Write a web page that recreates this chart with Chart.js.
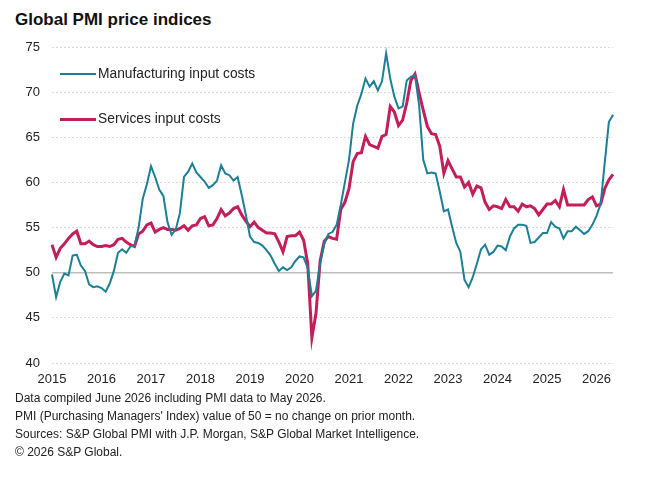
<!DOCTYPE html>
<html>
<head>
<meta charset="utf-8">
<script src="https://cdn.jsdelivr.net/npm/chart.js@4"></script>
<style>
    body { margin: 0; background: #fff; font-family: "Liberation Sans", Arial, sans-serif; }
    .wrap { position: relative; width: 646px; height: 478px; overflow: hidden; }
    .title { position: absolute; left: 15px; top: 10px; font-size: 17px; font-weight: bold; color: #111; }
    .chart-box { position: absolute; left: 0; top: 0; width: 646px; height: 390px; }
    .legend-item { position: absolute; left: 60px; font-size: 13.8px; color: #222; white-space: nowrap; }
    .legend-item .swatch { display: inline-block; width: 36px; vertical-align: middle; margin-right: 2px; }
    .notes { position: absolute; left: 15px; top: 389px; font-size: 12px; line-height: 18px; color: #222; }
</style>
</head>
<body>
<div class="wrap">
    <div class="title">Global PMI price indices</div>
    <div class="chart-box"><canvas id="pmiChart" width="646" height="390"></canvas></div>
    <div class="legend-item" style="top: 66px;"><span class="swatch" style="border-top: 2px solid #1b7f95;"></span>Manufacturing input costs</div>
    <div class="legend-item" style="top: 111px;"><span class="swatch" style="border-top: 3px solid #c41e5a;"></span>Services input costs</div>
    <div class="notes">
        Data compiled June 2026 including PMI data to May 2026.<br>
        PMI (Purchasing Managers' Index) value of 50 = no change on prior month.<br>
        Sources: S&amp;P Global PMI with J.P. Morgan, S&amp;P Global Market Intelligence.<br>
        &copy; 2026 S&amp;P Global.
    </div>
</div>
<script>
// Monthly values, Jan 2015 - May 2026
const startYear = 2015;
const monthCount = 137;

const manufacturing = [
    49.8, 47.3, 49.0, 49.9, 49.7, 51.9, 52.0, 50.8, 50.2, 48.7, 48.4, 48.5,
    48.3, 47.9, 48.8, 50.2, 52.2, 52.6, 52.2, 52.9, 53.0, 55.0, 58.2, 59.8,
    61.8, 60.6, 59.2, 58.5, 55.6, 54.2, 54.8, 56.6, 60.6, 61.2, 62.1, 61.1,
    60.6, 60.1, 59.4, 59.7, 60.2, 61.9, 61.0, 60.8, 60.2, 60.6, 58.6, 56.4,
    54.0, 53.4, 53.3, 53.0, 52.5, 51.9, 51.0, 50.2, 50.6, 50.3, 50.6, 51.3,
    51.8, 51.7, 50.5, 47.4, 48.0, 51.0, 53.2, 54.3, 54.5, 55.3, 57.5, 60.0,
    62.5, 66.5, 68.5, 69.8, 71.5, 70.6, 71.2, 70.2, 71.2, 74.3, 71.5, 69.5,
    68.2, 68.4, 71.3, 71.7, 71.9, 68.5, 62.5, 61.0, 61.1, 61.0, 59.0, 56.8,
    57.0, 55.1, 53.3, 52.3, 49.2, 48.4, 49.5, 51.0, 52.6, 53.1, 52.0, 52.3,
    53.0, 52.9, 52.5, 54.0, 54.9, 55.3, 55.3, 55.2, 53.3, 53.4, 53.9, 54.4,
    54.4, 55.6, 55.1, 54.9, 53.8, 54.6, 54.6, 55.1, 54.7, 54.3, 54.6, 55.3,
    56.3, 57.6, 62.2, 66.7, 67.5
];

const services = [
    53.1, 51.7, 52.7, 53.2, 53.8, 54.3, 54.6, 53.2, 53.2, 53.5, 53.1, 52.9,
    52.9, 53.0, 52.9, 53.1, 53.7, 53.8, 53.4, 53.1, 52.9, 54.3, 54.6, 55.3,
    55.5, 54.5, 54.8, 55.0, 54.8, 54.8, 54.7, 54.9, 55.2, 54.7, 55.2, 55.3,
    56.0, 56.2, 55.2, 55.3, 56.0, 57.0, 56.3, 56.6, 57.1, 57.3, 56.4, 55.7,
    55.1, 55.6, 55.0, 54.7, 54.4, 54.4, 54.3, 53.4, 52.3, 54.0, 54.1, 54.1,
    54.5, 53.6, 51.0, 42.8, 45.5, 51.3, 53.5, 54.0, 53.8, 53.7, 57.0, 57.8,
    59.3, 62.3, 63.2, 63.3, 65.1, 64.2, 64.0, 63.8, 65.1, 65.3, 68.4, 67.8,
    66.3, 66.9, 68.8, 71.3, 72.0, 69.9, 68.0, 66.2, 65.4, 65.3, 64.0, 61.0,
    62.4, 61.5, 60.6, 60.6, 59.5, 60.0, 58.7, 59.6, 59.4, 57.8, 57.0, 57.4,
    57.3, 57.1, 58.1, 57.3, 57.3, 56.8, 57.6, 57.3, 57.4, 57.1, 56.4, 57.0,
    57.6, 57.6, 58.0, 57.3, 59.2, 57.5, 57.5, 57.5, 57.5, 57.5, 58.1, 58.4,
    57.4, 57.6, 59.3, 60.3, 60.9
];

const yTicks = [40, 45, 50, 55, 60, 65, 70, 75];

// month labels like "2015-01"
const months = [];
for (let i = 0; i < monthCount; i++) {
    const y = startYear + Math.floor(i / 12);
    const m = (i % 12) + 1;
    months.push(y + '-' + (m < 10 ? '0' + m : m));
}

// solid line at 50 (no change)
const fiftyLine = {
    id: 'fiftyLine',
    beforeDatasetsDraw(chart) {
        const { ctx, chartArea, scales } = chart;
        const y = scales.y.getPixelForValue(50);
        ctx.save();
        ctx.strokeStyle = '#bdbdbd';
        ctx.lineWidth = 1.5;
        ctx.beginPath();
        ctx.moveTo(chartArea.left, y);
        ctx.lineTo(chartArea.right, y);
        ctx.stroke();
        ctx.restore();
    }
};

const ctx = document.getElementById('pmiChart').getContext('2d');
const pmiChart = new Chart(ctx, {
    type: 'line',
    data: {
        labels: months,
        datasets: [{
            label: 'Manufacturing input costs',
            data: manufacturing,
            borderColor: '#1b7f95',
            borderWidth: 2,
            pointRadius: 0,
            tension: 0
        }, {
            label: 'Services input costs',
            data: services,
            borderColor: '#c41e5a',
            borderWidth: 3,
            pointRadius: 0,
            tension: 0
        }]
    },
    options: {
        responsive: false,
        animation: false,
        layout: { padding: { left: 0, right: 33, top: 47, bottom: 0 } },
        plugins: {
            legend: { display: false },
            tooltip: { enabled: false }
        },
        scales: {
            x: {
                offset: false,
                grid: { display: false },
                border: { display: false },
                ticks: {
                    autoSkip: false,
                    maxRotation: 0,
                    padding: 1,
                    color: '#222',
                    font: { family: '"Liberation Sans", Arial, sans-serif', size: 13 },
                    callback: function(value, index) {
                        const label = months[index];
                        return label.endsWith('-01') ? label.slice(0, 4) : '';
                    }
                },
                afterFit: function(axis) { axis.height = 27; }
            },
            y: {
                min: 40,
                max: 75,
                afterBuildTicks: function(axis) {
                    axis.ticks = yTicks.map(v => ({ value: v }));
                },
                grid: { color: '#d9d9d9', lineWidth: 1, drawTicks: false },
                border: { display: false, dash: [2, 2] },
                ticks: {
                    padding: 12,
                    color: '#222',
                    font: { family: '"Liberation Sans", Arial, sans-serif', size: 13 }
                },
                afterFit: function(axis) { axis.width = 52; }
            }
        }
    },
    plugins: [fiftyLine]
});
</script>
</body>
</html>
